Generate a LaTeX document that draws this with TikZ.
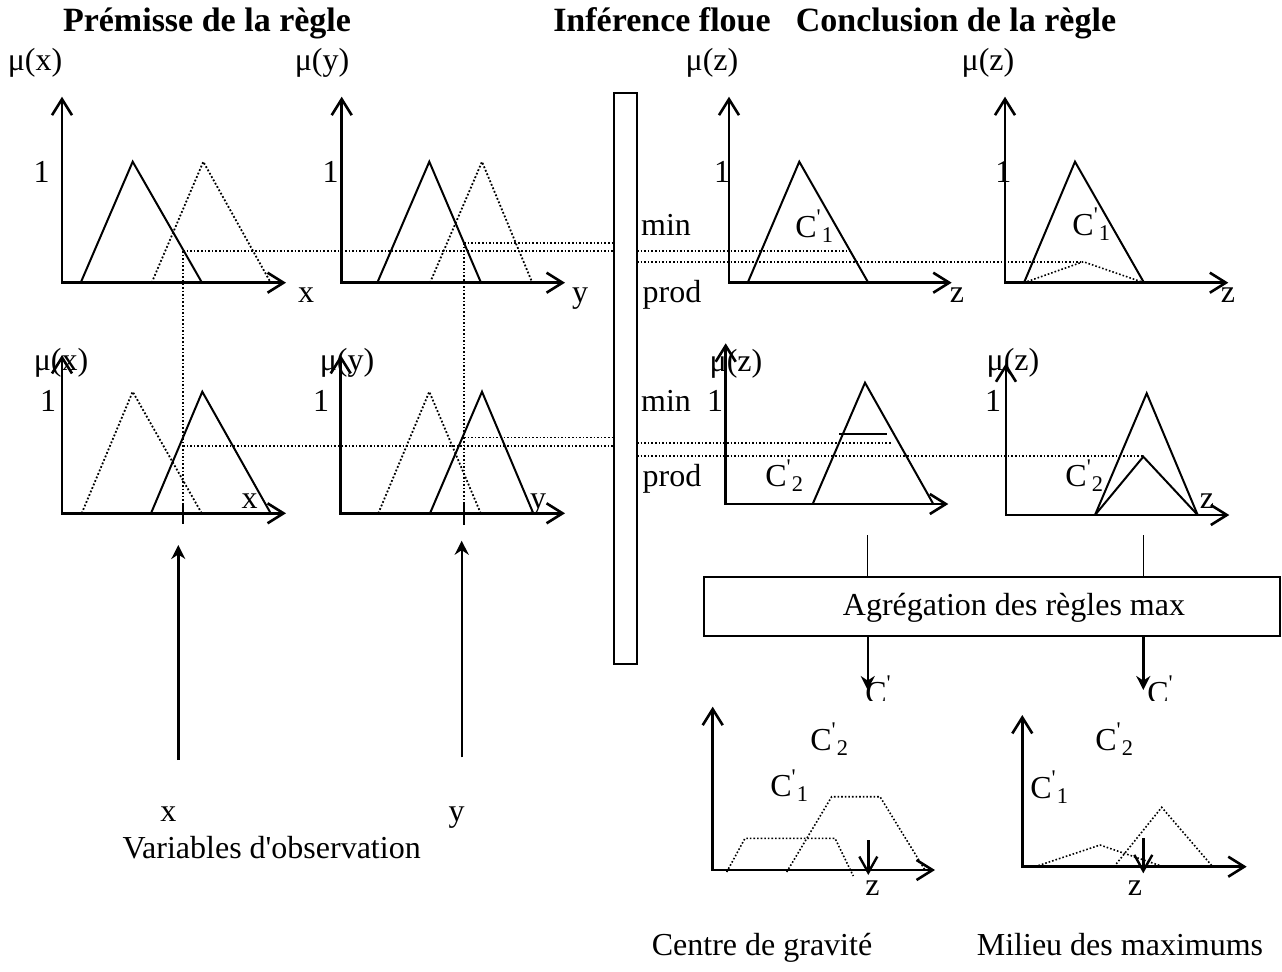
\documentclass[tikz,border=0pt]{standalone}
\usepackage{fontspec}
\setmainfont{Liberation Serif}[Ligatures=TeXOff]
\usepackage{tikz}
\usetikzlibrary{arrows.meta}

\newcommand{\cpr}[1]{C\textsuperscript{'}\textsubscript{#1}}

\begin{document}
\begin{tikzpicture}[x=0.5pt, y=-0.5pt, >={Stealth[length=7pt,width=7pt]},
  axes/.style={line width=1.3pt, {Straight Barb[length=8pt,width=10pt]}-{Straight Barb[length=8pt,width=10pt]}},
  mf/.style={line width=1pt},
  mfdot/.style={line width=0.9pt, densely dotted},
  lvl/.style={line width=0.8pt, densely dotted},
  txt/.style={anchor=base, inner sep=0pt, font=\fontsize{16}{19}\selectfont},
  ttl/.style={txt, font=\fontsize{17}{20}\selectfont\bfseries},
  cl/.style={txt, anchor=base west},
  box/.style={draw, line width=1pt, inner sep=0pt}]
  \useasboundingbox (0,0) rectangle (1282,971);

  \node[ttl] (tpre) at (207,31) {Prémisse de la règle};
  \node[ttl] (tinf) at (662,31) {Inférence floue};
  \node[ttl] (tcon) at (956,31) {Conclusion de la règle};

  % regle 1
  \draw[axes] (62,96.7) |- (286,282.7);
  \draw[mf] (80.7,282.7) -- (132.7,161.7) -- (202,282.7);
  \draw[mfdot] (151.7,282.7) -- (203.3,161.7) -- (270.7,282.7);
  \draw[axes] (341.7,96.7) |- (565,282.7);
  \draw[mf] (377.3,282.7) -- (429.3,161.7) -- (481,282.7);
  \draw[mfdot] (430,282.7) -- (482,161.7) -- (532.3,282.7);
  \draw[axes] (729,96.7) |- (951.7,282.7);
  \draw[mf] (747.7,282.7) -- (799.3,161.7) -- (868.3,282.7);
  \draw[axes] (1005,96.7) |- (1228.3,282.7);
  \draw[mf] (1024,282.7) -- (1075,161.7) -- (1144,282.7);
  \draw[lvl] (1024,282.7) -- (1083.3,261.7) -- (1144,282.7);
  \draw[lvl] (183,251) -- (614,251); \draw[lvl] (464,243) -- (614,243);
  \draw[lvl] (637,251) -- (850,251); \draw[lvl] (637,261.7) -- (1083.3,261.7);

  \node[txt] (mx1) at (35,70) {μ(x)};
  \node[txt] (my1) at (322,70) {μ(y)};
  \node[txt] (mz1) at (712,70) {μ(z)};
  \node[txt] (mz2) at (988,70) {μ(z)};
  \node[txt] (ux1) at (41.7,182) {1};
  \node[txt] (uy1) at (330.7,182) {1};
  \node[txt] (uz1) at (722,182) {1};
  \node[txt] (uz2) at (1003.3,182) {1};
  \node[txt] (ax1) at (306,302) {x};
  \node[txt] (ay1) at (580,302) {y};
  \node[txt] (az1) at (957,302) {z};
  \node[txt] (az2) at (1228,302) {z};
  \node[txt] (min1) at (666,235.7) {min};
  \node[txt] (prod1) at (672,302) {prod};
  \node[cl] (c11) at (795,237) {\cpr{1}};
  \node[cl] (c12) at (1072,235) {\cpr{1}};

  % regle 2
  \draw[axes] (62,355) |- (286,513.3);
  \draw[mfdot] (81.7,513.3) -- (132.7,391.7) -- (201.7,513.3);
  \draw[mf] (151,513.3) -- (202.3,391.7) -- (270.7,513.3);
  \draw[axes] (340.7,355) |- (565,513.3);
  \draw[mfdot] (378.3,513.3) -- (429.3,391.7) -- (480.7,513.3);
  \draw[mf] (430,513.3) -- (482,391.7) -- (533.3,513.3);
  \draw[axes] (725.7,343.3) |- (948.3,504);
  \draw[mf] (812.7,504) -- (865,382.7) -- (933.3,504);
  \draw[mf] (839.3,434) -- (886.7,434);
  \draw[axes] (1006,363.3) |- (1229.3,515);
  \draw[mf] (1095,515) -- (1146.7,393.3) -- (1197.7,515);
  \draw[mf] (1095,515) -- (1143.3,456.7) -- (1197.7,515);
  \draw[lvl] (183,446) -- (614,446); \draw[lvl] (464,437.3) -- (614,437.3);
  \draw[lvl] (637,442.7) -- (891.7,442.7); \draw[lvl] (637,456) -- (1143.3,456);
  \draw[lvl] (183,251) -- (183,503); \draw[lvl] (464,243) -- (464,503);
  \draw[mf] (183,503) -- (183,524); \draw[mf] (464,503) -- (464,525);

  \node[txt] (mx2) at (61,370) {μ(x)};
  \node[txt] (my2) at (347,370) {μ(y)};
  \node[txt] (mz3) at (736,371) {μ(z)};
  \node[txt] (mz4) at (1013,370) {μ(z)};
  \node[txt] (ux2) at (48,411.7) {1};
  \node[txt] (uy2) at (321,411.7) {1};
  \node[txt] (uz3) at (715,411.7) {1};
  \node[txt] (uz4) at (993,411.7) {1};
  \node[txt] (ax2) at (249.5,508) {x};
  \node[txt] (ay2) at (538,508) {y};
  \node[txt] (az4) at (1207,508) {z};
  \node[txt] (min2) at (666,411.7) {min};
  \node[txt] (prod2) at (672,486.7) {prod};
  \node[cl] (c21) at (765,486.7) {\cpr{2}};
  \node[cl] (c22) at (1065,486.7) {\cpr{2}};

  \node[box, minimum width=11.5pt, minimum height=285.4pt] (inf) at (625.5,378.6) {};

  % observations
  \node[txt] (obsx) at (168.3,821.7) {x};
  \node[txt] (obsy) at (456.7,821) {y};
  \node[txt] (obs) at (271.7,858) {Variables d'observation};
  \coordinate (xfoot) at (178.3,760); \coordinate (xhead) at (178.3,545);
  \coordinate (yfoot) at (461.7,757.3); \coordinate (yhead) at (461.7,540.7);
  \draw[->, line width=1.2pt] (xfoot) -- (xhead);
  \draw[->, line width=1.2pt] (yfoot) -- (yhead);

  % agregation
  \node[box, minimum width=288pt, minimum height=29.5pt] (agg) at (992,606.2) {};
  \node[txt] (agglbl) at (1014,615.7) {Agrégation des règles max};
  \coordinate (g1) at (867.7,535); \coordinate (g2) at (1143.3,535);
  \draw[line width=0.7pt] (g1) -- (g1 |- agg.north); \draw[line width=0.7pt] (g2) -- (g2 |- agg.north);
  \begin{scope}
    \clip (850,660) rectangle (1200,700);
    \node[cl] (cg) at (865,703) {C\textsuperscript{'}};
    \node[cl] (cm) at (1147,703) {C\textsuperscript{'}};
  \end{scope}
  \draw[->, line width=1.2pt] (g1 |- agg.south) -- (867.7,690);
  \draw[->, line width=1.2pt] (g2 |- agg.south) -- (1143.3,690);

  % defuzzification
  \draw[axes] (712.7,706.7) |- (935,870);
  \draw[lvl] (726.7,872) -- (745,838.3) -- (835,838.3) -- (853.3,876);
  \draw[lvl] (786.7,872) -- (831.7,796.7) -- (880,796.7) -- (925,870);
  \draw[line width=1.2pt, -{Straight Barb[length=8pt,width=9pt]}] (868.3,840) -- (868.3,875);
  \node[cl] (f12) at (810,750) {\cpr{2}};
  \node[cl] (f11) at (770,796.7) {\cpr{1}};
  \node[txt] (fz1) at (872.5,895) {z};
  \draw[axes] (1022.3,715) |- (1246.7,866.7);
  \draw[lvl] (1035,866.7) -- (1100,845) -- (1163.3,866.7);
  \draw[lvl] (1114,866.7) -- (1161.7,807.3) -- (1212.7,866.7);
  \draw[line width=1.2pt, -{Straight Barb[length=8pt,width=9pt]}] (1143.3,838.3) -- (1143.3,873.3);
  \node[cl] (f22) at (1095,750) {\cpr{2}};
  \node[cl] (f21) at (1030,798) {\cpr{1}};
  \node[txt] (fz2) at (1135,895) {z};

  \node[txt] (cog) at (762,955) {Centre de gravité};
  \node[txt] (mom) at (1120,955) {Milieu des maximums};
\end{tikzpicture}
\end{document}
